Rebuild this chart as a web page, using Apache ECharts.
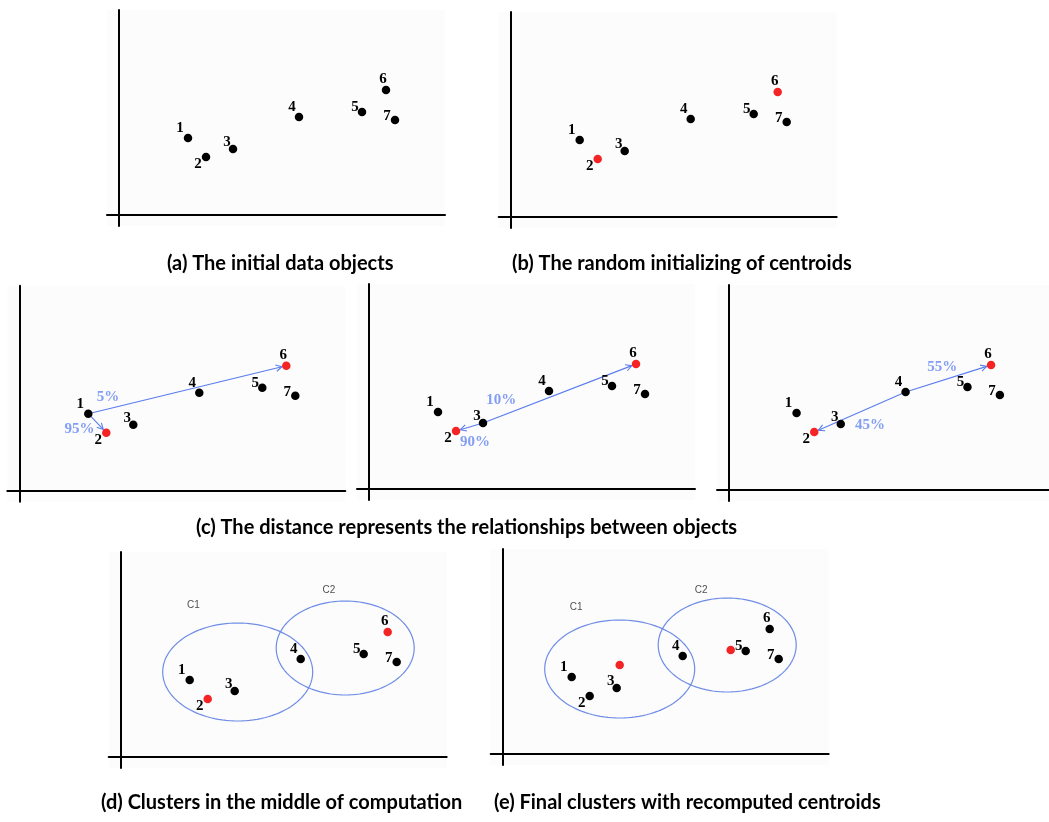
<!DOCTYPE html>
<html>
<head>
<meta charset="utf-8">
<script src="https://cdn.jsdelivr.net/npm/echarts@6/dist/echarts.min.js"></script>
<style>
html,body{margin:0;padding:0;background:#fff;}
#chart{width:1049px;height:822px;}
</style>
</head>
<body>
<div id="chart"></div>
<script>
// ---- data (units: axis units, origin at axis crossing) ----
const pointLabels = ['1', '2', '3', '4', '5', '6', '7'];
const pointX = [6.9, 8.7, 11.4, 18.0, 24.3, 26.7, 27.6];
const pointY = [7.7, 5.8, 6.6, 9.8, 10.3, 12.5, 9.5];

// indices of the points chosen as initial centroids
const initialCentroids = [1, 5];

// final recomputed centroids (panel e)
const finalCentroidX = [11.7, 22.8];
const finalCentroidY = [8.9, 10.4];

// clusters (ellipses)
const clusterNames = ['C1', 'C2'];
const clusterCx = [11.7, 22.45];
const clusterCy = [8.5, 10.9];
const clusterRx = [7.5, 6.9];
const clusterRy = [4.9, 4.7];
const clusterLabelD = [[7.27, 15.2], [20.83, 16.7]];
const clusterLabelE = [[7.35, 14.67], [19.85, 16.37]];

// distance arrows in panels (c): [from, to] point indices, and their percentages
const arrowsC1 = [[0, 5], [0, 1]];
const pctC1 = ['5%', '95%'];
const pctPosC1 = [[8.87, 9.35], [6.02, 6.15]];
const arrowsC2 = [[2, 5], [2, 1]];
const pctC2 = ['10%', '90%'];
const pctPosC2 = [[13.22, 8.9], [10.6, 4.65]];
const arrowsC3 = [[3, 5], [3, 1]];
const pctC3 = ['55%', '45%'];
const pctPosC3 = [[21.73, 12.25], [14.38, 6.5]];

const captions = [
  '(a) The initial data objects',
  '(b) The random initializing of centroids',
  '(c) The distance represents the relationships between objects',
  '(d) Clusters in the middle of computation',
  '(e) Final clusters with recomputed centroids'
];

// ---- layout / style ----
const BLACK = '#000000';
const RED = '#f42424';
const BLUE_LINE = '#5a7cee';
const BLUE_TEXT = '#6486f2';
const ELLIPSE = '#6f8de6';
const labelOffsets = [[-8, -10], [-8, 7], [-6, -7], [-7, -10], [-7, -5], [-3, -11], [-8, -4]];

const panels = [
  { left: 107, top: 10 },
  { left: 498.7, top: 12 },
  { left: 7.3, top: 285.7 },
  { left: 357, top: 284 },
  { left: 717, top: 285 },
  { left: 108.7, top: 552 },
  { left: 490.7, top: 549 }
];
const captionPos = [
  { left: 167, top: 254 },
  { left: 512, top: 254 },
  { left: 196, top: 518 },
  { left: 101, top: 793 },
  { left: 494, top: 793 }
];

const grids = [], xAxes = [], yAxes = [], series = [];
panels.forEach((p, i) => {
  grids.push({ left: p.left, top: p.top, width: 338, height: 216, show: true,
    backgroundColor: '#fcfcfc', borderWidth: 0 });
  xAxes.push({ gridIndex: i, type: 'value', min: -1.2, max: 32.6,
    axisLine: { show: true, onZero: true, lineStyle: { color: BLACK, width: 2 } },
    axisTick: { show: false }, axisLabel: { show: false }, splitLine: { show: false } });
  yAxes.push({ gridIndex: i, type: 'value', min: -1.1, max: 20.5,
    axisLine: { show: true, onZero: true, lineStyle: { color: BLACK, width: 2 } },
    axisTick: { show: false }, axisLabel: { show: false }, splitLine: { show: false } });
});

const numStyle = { color: BLACK, fontFamily: 'Liberation Serif', fontWeight: 'bold', fontSize: 15 };

function pointSeries(gi, centroids) {
  return {
    type: 'scatter', xAxisIndex: gi, yAxisIndex: gi, z: 5, symbolSize: 8.5, silent: true,
    data: pointX.map((x, i) => ({
      name: pointLabels[i], value: [x, pointY[i]],
      itemStyle: { color: centroids.includes(i) ? RED : BLACK, opacity: 1 },
      label: { offset: labelOffsets[i] }
    })),
    label: Object.assign({ show: true, position: 'inside', formatter: '{b}' }, numStyle)
  };
}

function arrowSeries(gi, arrows) {
  return {
    type: 'custom', xAxisIndex: gi, yAxisIndex: gi, z: 2, silent: true,
    encode: { x: [0, 2], y: [1, 3] },
    data: arrows.map(a => [pointX[a[0]], pointY[a[0]], pointX[a[1]], pointY[a[1]]]),
    renderItem: function (params, api) {
      const p1 = api.coord([api.value(0), api.value(1)]);
      const p2 = api.coord([api.value(2), api.value(3)]);
      const dx = p2[0] - p1[0], dy = p2[1] - p1[1];
      const len = Math.hypot(dx, dy);
      const ux = dx / len, uy = dy / len;
      const gap = 4.5;
      const tip = [p2[0] - ux * gap, p2[1] - uy * gap];
      const ah = 6, aw = 3.2;
      const back = [tip[0] - ux * ah, tip[1] - uy * ah];
      const l = [back[0] - uy * aw, back[1] + ux * aw];
      const r = [back[0] + uy * aw, back[1] - ux * aw];
      return { type: 'group', children: [
        { type: 'line', shape: { x1: p1[0], y1: p1[1], x2: tip[0], y2: tip[1] },
          style: { stroke: BLUE_LINE, lineWidth: 1.1 } },
        { type: 'polyline', shape: { points: [l, tip, r] },
          style: { stroke: BLUE_LINE, fill: null, lineWidth: 1.1 } }
      ] };
    }
  };
}

function textSeries(gi, texts, pos, style) {
  return {
    type: 'scatter', xAxisIndex: gi, yAxisIndex: gi, z: 6, symbolSize: 1, silent: true,
    itemStyle: { color: 'rgba(0,0,0,0)' },
    data: texts.map((t, i) => ({ name: t, value: pos[i] })),
    label: Object.assign({ show: true, position: 'inside', formatter: '{b}' }, style)
  };
}

function ellipseSeries(gi) {
  return {
    type: 'custom', xAxisIndex: gi, yAxisIndex: gi, z: 1, silent: true,
    data: clusterCx.map((cx, i) => [cx, clusterCy[i], clusterRx[i], clusterRy[i]]),
    renderItem: function (params, api) {
      const c = api.coord([api.value(0), api.value(1)]);
      const rx = api.size([api.value(2), 0])[0];
      const ry = api.size([0, api.value(3)])[1];
      const pts = [];
      for (let k = 0; k < 120; k++) {
        const t = k / 120 * Math.PI * 2;
        pts.push([c[0] + rx * Math.cos(t), c[1] + ry * Math.sin(t)]);
      }
      return { type: 'polygon', shape: { points: pts },
        style: { stroke: ELLIPSE, fill: null, lineWidth: 1.2 } };
    }
  };
}

const pctStyle = { color: BLUE_TEXT, fontFamily: 'Liberation Serif', fontWeight: 'bold', fontSize: 15 };
const clStyle = { color: '#222', fontFamily: 'Liberation Sans', fontSize: 10 };

// (a)
series.push(pointSeries(0, []));
// (b)
series.push(pointSeries(1, initialCentroids));
// (c)
series.push(pointSeries(2, initialCentroids), arrowSeries(2, arrowsC1), textSeries(2, pctC1, pctPosC1, pctStyle));
series.push(pointSeries(3, initialCentroids), arrowSeries(3, arrowsC2), textSeries(3, pctC2, pctPosC2, pctStyle));
series.push(pointSeries(4, initialCentroids), arrowSeries(4, arrowsC3), textSeries(4, pctC3, pctPosC3, pctStyle));
// (d)
series.push(pointSeries(5, initialCentroids), ellipseSeries(5), textSeries(5, clusterNames, clusterLabelD, clStyle));
// (e)
series.push(pointSeries(6, []), ellipseSeries(6), textSeries(6, clusterNames, clusterLabelE, clStyle));
series.push({
  type: 'scatter', xAxisIndex: 6, yAxisIndex: 6, z: 5, symbolSize: 8.5, silent: true,
  itemStyle: { color: RED, opacity: 1 },
  data: finalCentroidX.map((x, i) => [x, finalCentroidY[i]])
});

const titles = captions.map((t, i) => ({
  text: t, left: captionPos[i].left, top: captionPos[i].top, padding: 0,
  textStyle: { fontFamily: 'Lato', fontWeight: 'bold', fontSize: 20, color: '#000' }
}));

const chart = echarts.init(document.getElementById('chart'), null, { renderer: 'canvas' });
chart.setOption({
  animation: false,
  backgroundColor: '#ffffff',
  title: titles,
  grid: grids,
  xAxis: xAxes,
  yAxis: yAxes,
  series: series
});
</script>
</body>
</html>
